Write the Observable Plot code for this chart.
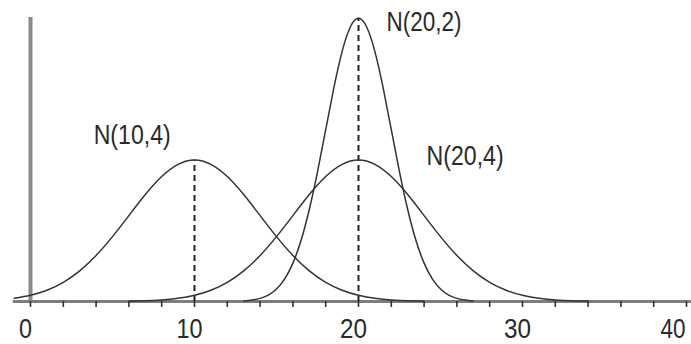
<!DOCTYPE html>
<html>
<head>
<meta charset="utf-8">
<script src="https://cdn.jsdelivr.net/npm/d3@7"></script>
<script src="https://cdn.jsdelivr.net/npm/@observablehq/plot@0.6"></script>
<style>
  html, body { margin: 0; padding: 0; background: #fff; }
  #chart svg { display: block; }
</style>
</head>
<body>
<div id="chart"></div>
<script>
// ---- Data ----
// N(10,4): density values along x
const n10_4_x = [-1, 0, 1, 2, 3, 4, 5, 6, 7, 8, 9, 10, 11, 12, 13, 14, 15, 16, 17, 18, 19, 20, 21, 22, 23, 24];
const n10_4_y = [0.0023, 0.0044, 0.0079, 0.0135, 0.0216, 0.0324, 0.0457, 0.0605, 0.0753, 0.0880, 0.0966, 0.0997,
                 0.0966, 0.0880, 0.0753, 0.0605, 0.0457, 0.0324, 0.0216, 0.0135, 0.0079, 0.0044, 0.0023, 0.0011, 0.0005, 0.0002];

// N(20,4)
const n20_4_x = [6, 7, 8, 9, 10, 11, 12, 13, 14, 15, 16, 17, 18, 19, 20, 21, 22, 23, 24, 25, 26, 27, 28, 29, 30, 31, 32, 33, 34];
const n20_4_y = [0.0002, 0.0005, 0.0011, 0.0023, 0.0044, 0.0079, 0.0135, 0.0216, 0.0324, 0.0457, 0.0605, 0.0753, 0.0880, 0.0966, 0.0997,
                 0.0966, 0.0880, 0.0753, 0.0605, 0.0457, 0.0324, 0.0216, 0.0135, 0.0079, 0.0044, 0.0023, 0.0011, 0.0005, 0.0002];

// N(20,2)
const n20_2_x = [13, 13.5, 14, 14.5, 15, 15.5, 16, 16.5, 17, 17.5, 18, 18.5, 19, 19.5, 20,
                 20.5, 21, 21.5, 22, 22.5, 23, 23.5, 24, 24.5, 25, 25.5, 26, 26.5, 27];
const n20_2_y = [0.0004, 0.0010, 0.0022, 0.0045, 0.0088, 0.0159, 0.0270, 0.0431, 0.0648, 0.0913, 0.1210, 0.1506, 0.1760, 0.1933, 0.1995,
                 0.1933, 0.1760, 0.1506, 0.1210, 0.0913, 0.0648, 0.0431, 0.0270, 0.0159, 0.0088, 0.0045, 0.0022, 0.0010, 0.0004];

// Dashed mean markers
const meanValues = [10, 20];

// Axis ticks and labels
const tickValues = [0, 2, 4, 6, 8, 10, 12, 14, 16, 18, 20, 22, 24, 26, 28, 30, 32, 34, 36, 38, 40];
const labelValues = [0, 10, 20, 30];
const lastLabelValues = [40];

// Curve annotations
const annotationText = ["N(10,4)", "N(20,2)", "N(20,4)"];
const annotationX = [6.2, 24.0, 26.5];
const annotationY = [0.117, 0.1967, 0.1022];

// ---- Build tables ----
const series = [
  ...n10_4_x.map((x, i) => ({name: "N(10,4)", x, y: n10_4_y[i]})),
  ...n20_4_x.map((x, i) => ({name: "N(20,4)", x, y: n20_4_y[i]})),
  ...n20_2_x.map((x, i) => ({name: "N(20,2)", x, y: n20_2_y[i]}))
];
const meanLines = [
  {x: meanValues[0], y: d3.max(n10_4_y)},
  {x: meanValues[1], y: d3.max(n20_2_y)}
];
const annotations = annotationText.map((t, i) => ({t, x: annotationX[i], y: annotationY[i]}));

const FONT = "'Liberation Sans', Arial, sans-serif";

const chart = Plot.plot({
  width: 691,
  height: 344,
  marginLeft: 30,
  marginRight: 5,
  marginTop: 17,
  marginBottom: 43,
  x: {domain: [0, 40], label: null},
  y: {domain: [0, 0.2], axis: null},
  style: {background: "#fff", fontFamily: FONT},
  marks: [
    // x axis line (extends a little left of 0)
    Plot.ruleY([0], {x1: -1.05, x2: 40.3, stroke: "#7d7d7d", strokeWidth: 3}),
    // y axis line
    Plot.ruleX([0], {y1: 0, y2: 0.2, stroke: "#8a8a8a", strokeWidth: 4}),
    // ticks
    Plot.axisX({ticks: tickValues, tickSize: 6, tickFormat: () => "", stroke: "#333", strokeWidth: 1.6, label: null}),
    // dashed mean lines
    Plot.ruleX(meanLines, {x: "x", y1: 0, y2: "y", stroke: "#222", strokeWidth: 2, strokeDasharray: "6,4"}),
    // density curves
    Plot.line(series, {x: "x", y: "y", z: "name", curve: "natural", stroke: "#333", strokeWidth: 1.5}),
    // tick labels
    Plot.text(labelValues, {x: d => d, y: 0, text: d => String(d), dy: 28, dx: -5, lineAnchor: "middle",
      fontSize: 28, fill: "#2a2a2a", fontFamily: FONT}),
    Plot.text(lastLabelValues, {x: d => d, y: 0, text: d => String(d), dy: 28, dx: -1, textAnchor: "end", lineAnchor: "middle",
      fontSize: 28, fill: "#2a2a2a", fontFamily: FONT}),
    // curve annotations
    Plot.text(annotations, {x: "x", y: "y", text: "t", lineAnchor: "middle", textAnchor: "middle",
      fontSize: 27, fill: "#2a2a2a", fontFamily: FONT})
  ]
});

// condense the labels to the reference widths
const labelWidths = {"N(10,4)": 77, "N(20,2)": 75, "N(20,4)": 77, "10": 26, "20": 27, "30": 27, "40": 25, "0": 13};
d3.select(chart).selectAll("text").each(function() {
  const t = this.textContent;
  if (labelWidths[t]) {
    this.setAttribute("textLength", labelWidths[t]);
    this.setAttribute("lengthAdjust", "spacingAndGlyphs");
  }
});

document.getElementById("chart").appendChild(chart);
</script>
</body>
</html>
